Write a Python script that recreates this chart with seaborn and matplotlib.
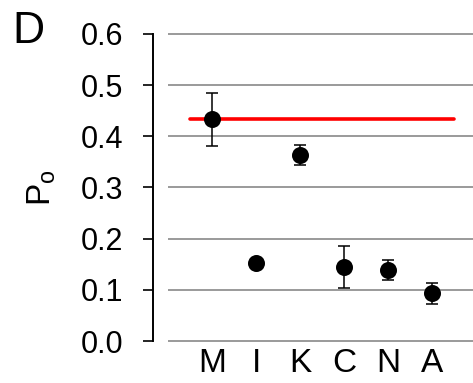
import numpy as np
import pandas as pd
import matplotlib
matplotlib.use("Agg")
import matplotlib.pyplot as plt
import seaborn as sns

categories = ["M", "I", "K", "C", "N", "A"]
po_values = [0.433, 0.152, 0.364, 0.144, 0.139, 0.093]
po_errors = [0.051, 0.0, 0.020, 0.041, 0.020, 0.020]
reference_po = 0.433
y_ticks = [0.0, 0.1, 0.2, 0.3, 0.4, 0.5, 0.6]

sns.set_theme(style="white")
plt.rcParams["font.family"] = ["Liberation Sans", "DejaVu Sans"]
plt.rcParams["mathtext.fontset"] = "custom"
plt.rcParams["mathtext.rm"] = "Liberation Sans"

df = pd.DataFrame({"cat": categories, "po": po_values, "err": po_errors})
df["pos"] = np.arange(len(df))

fig = plt.figure(figsize=(4.73, 3.83), dpi=100)
ax = fig.add_axes([168 / 473, 0.1029, 305 / 473, 0.8151])

for t in y_ticks:
    ax.axhline(t, color="#9a9a9a", lw=1.4, zorder=0)

ax.hlines(reference_po, -0.5, len(categories) - 0.5, color="#ff0000", lw=2.6,
          capstyle="round", zorder=1)

ax.errorbar(df["pos"], df["po"], yerr=df["err"], fmt="none", ecolor="black",
            elinewidth=1.1, capsize=4.3, capthick=1.1, zorder=2)
sns.scatterplot(data=df, x="pos", y="po", color="black", s=150, edgecolor="black",
                linewidth=0, ax=ax, zorder=3, legend=False)

sns.despine(ax=ax, top=True, right=True, bottom=True, left=False, offset={"left": 10.8})
ax.spines["left"].set_bounds(0, 0.6)
ax.spines["left"].set_color("black")
ax.spines["left"].set_linewidth(1.4)
ax.patch.set_alpha(0)

ax.set_xlim(-1, 5.93)
ax.set_ylim(-0.005, 0.605)
ax.set_xticks(df["pos"])
ax.set_xticklabels(categories, fontsize=24)
ax.set_yticks(y_ticks)
ax.set_yticklabels([f"{t:.1f}" for t in y_ticks], fontsize=22)
ax.tick_params(axis="x", length=0, pad=3, colors="black", bottom=False)
ax.tick_params(axis="y", left=True, length=7.2, width=1.2, pad=14, colors="black",
               direction="out")
ax.set_xlabel("")
ax.set_ylabel(r"$\mathrm{P_o}$", fontsize=24, color="black")
ax.yaxis.set_label_coords((58 - 168) / 305, 0.5)

fig.text(12 / 473, 1 - 11 / 383, "D", fontsize=32, ha="left", va="top", color="black")

fig.savefig("out.png", dpi=100, facecolor="white")
